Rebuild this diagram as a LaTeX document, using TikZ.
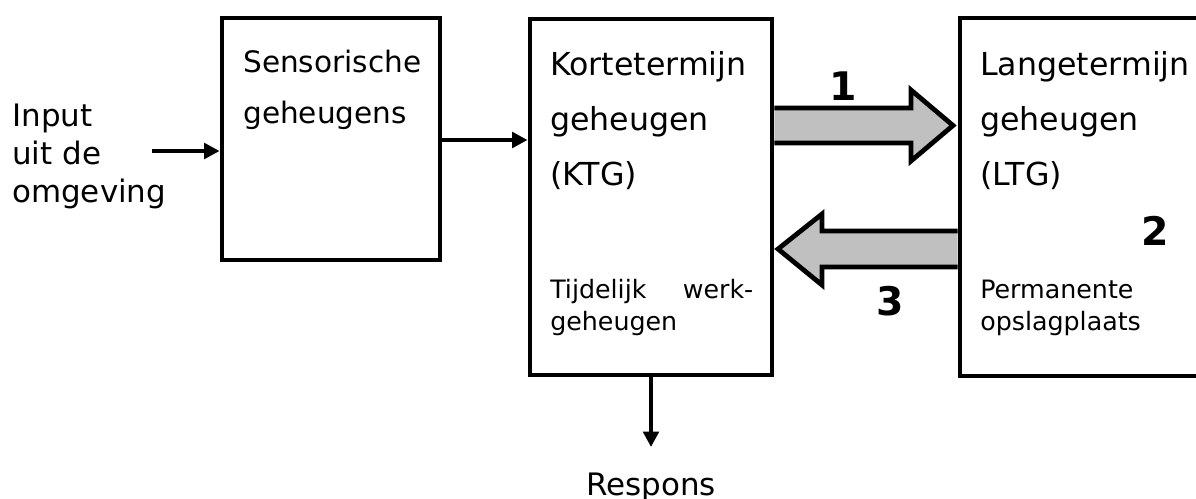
\documentclass[tikz,border=0pt]{standalone}
\usepackage{fontspec}
\setmainfont{DejaVu Sans}
\usetikzlibrary{arrows.meta}
\definecolor{arrowgrey}{RGB}{192,192,192}

\begin{document}
\begin{tikzpicture}[x=0.025cm,y=-0.025cm,
	box/.style={draw,line width=3.4pt,inner sep=0pt},
	txt/.style={anchor=base west,inner sep=0pt,align=left},
	flow/.style={line width=3.5pt,-{Triangle[length=11pt,width=11pt]}},
	fat/.style={draw,line width=3.4pt,fill=arrowgrey,line join=miter},
	num/.style={anchor=base,inner sep=0pt,font=\fontsize{28pt}{30pt}\selectfont\bfseries}]
	\clip (0,0) rectangle (1196,499);
	\node [box,minimum width=5.45cm,minimum height=6.05cm] (sens) at (331,139) {};
	\node [box,minimum width=6.05cm,minimum height=8.9cm] (ktg) at (651,197) {};
	\node [box,minimum width=7.5cm,minimum height=8.95cm] (ltg) at (1110,197) {};
	\node [txt,font=\fontsize{22pt}{27pt}\selectfont] (input) at (12,202) {Input\\uit de\\omgeving};
	\node [txt,font=\fontsize{21pt}{36pt}\selectfont] (senstxt) at (243,123) {Sensorische\\geheugens};
	\node [txt,font=\fontsize{22.5pt}{39pt}\selectfont] (ktgtxt) at (550,185) {Kortetermijn\\geheugen\\(KTG)};
	\node [txt,font=\fontsize{22.5pt}{39pt}\selectfont] (ltgtxt) at (980,185) {Langetermijn\\geheugen\\(LTG)};
	\node [txt,font=\fontsize{18pt}{22.75pt}\selectfont] (werk) at (550,330) {\makebox[5.075cm][s]{Tijdelijk werk-}\\geheugen};
	\node [txt,font=\fontsize{18pt}{22.75pt}\selectfont] (opslag) at (980,330) {Permanente\\opslagplaats};
	\node [num] (een) at (843,100) {1};
	\node [num] (twee) at (1155,245) {2};
	\node [num] (drie) at (890,315) {3};
	\node [anchor=base,inner sep=0pt,font=\fontsize{22pt}{27pt}\selectfont] (resp) at (651,495) {Respons};
	\coordinate (in) at (152,151);
	\coordinate (mid) at (0,140);
	\coordinate (out) at (651,447);
	\draw [flow] (in) -- (in -| sens.west);
	\draw [flow] (sens.east |- mid) -- (ktg.west |- mid);
	\draw [flow] (ktg.south -| out) -- (out);
	\draw [fat] (ktg.east |- 0,108) -- (911,108) -- (911,90) -- (953,125.5) -- (911,161) -- (911,143) -- (ktg.east |- 0,143);
	\draw [fat] (ltg.west |- 0,231) -- (822,231) -- (822,214) -- (778,249) -- (822,285) -- (822,267) -- (ltg.west |- 0,267);
\end{tikzpicture}
\end{document}
